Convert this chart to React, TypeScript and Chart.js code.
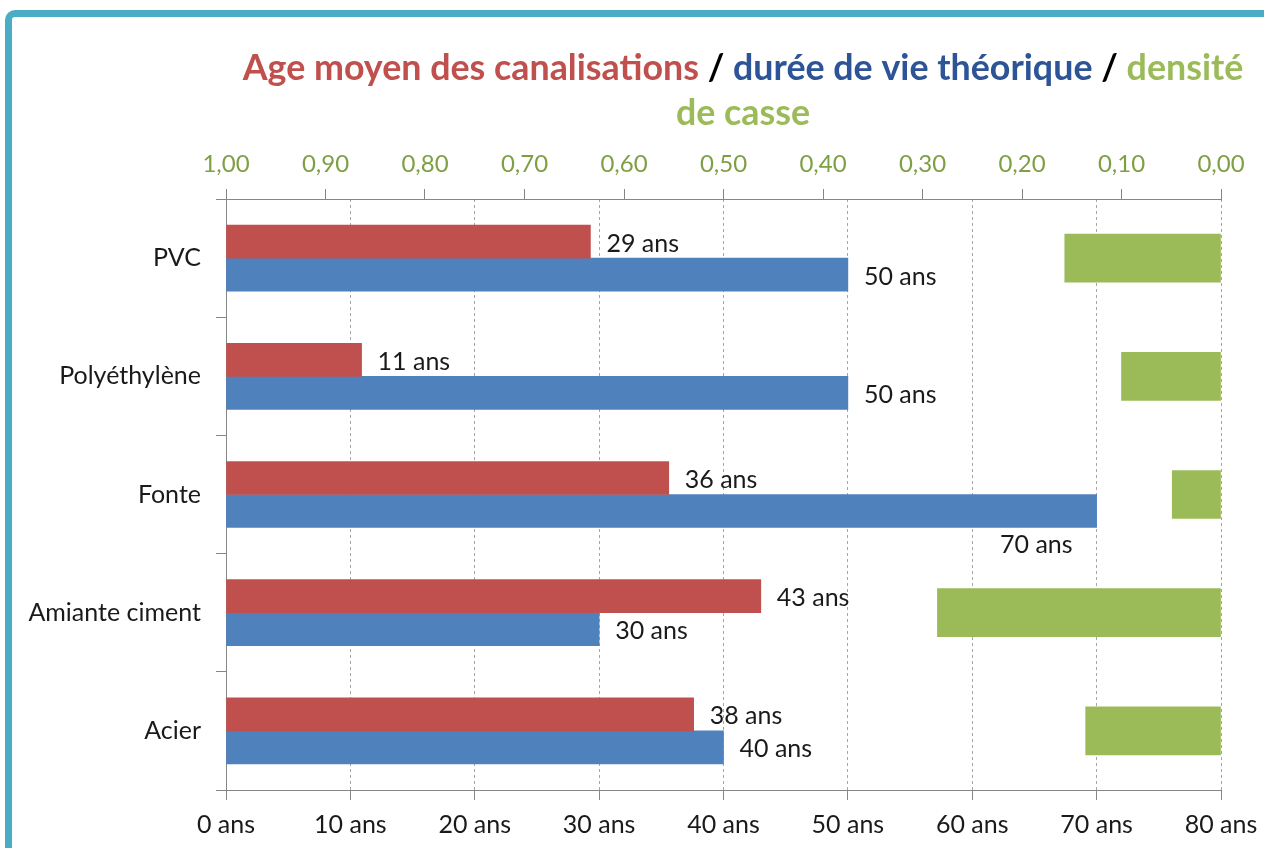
import React, { useEffect, useRef } from 'react';
import Chart from 'chart.js/auto';

const categories = ['PVC', 'Polyéthylène', 'Fonte', 'Amiante ciment', 'Acier'];
const ageMoyen = [29.3, 10.9, 35.6, 43.0, 37.6];
const dureeVie = [50, 50, 70, 30, 40];
const densiteCasse = [0.157, 0.1, 0.049, 0.285, 0.136];
const ageUnit = ' ans';

const titleLine1 = [
  { text: 'Age moyen des canalisations', color: '#C0504D' },
  { text: ' / ', color: '#000000' },
  { text: 'durée de vie théorique', color: '#2C5496' },
  { text: ' / ', color: '#000000' },
  { text: 'densité', color: '#9BBB59' },
];
const titleLine2 = [{ text: 'de casse', color: '#9BBB59' }];

const FONT = 'Lato';
const TEXT = '#1a1a1a';
const AXIS = '#868686';

const titlePlugin = {
  id: 'multiTitle',
  afterDraw(chart: any) {
    const ctx = chart.ctx;
    ctx.save();
    ctx.font = `bold 35.8px ${FONT}`;
    ctx.textBaseline = 'middle';
    ctx.textAlign = 'left';
    const drawLine = (segs: { text: string; color: string }[], cx: number, cy: number) => {
      const total = segs.reduce((s, g) => s + ctx.measureText(g.text).width, 0);
      let x = cx - total / 2;
      segs.forEach((g) => {
        ctx.fillStyle = g.color;
        ctx.fillText(g.text, x, cy);
        x += ctx.measureText(g.text).width;
      });
    };
    drawLine(titleLine1, 743, 68);
    drawLine(titleLine2, 743, 113);
    ctx.restore();
  },
};

const valueLabels = {
  id: 'valueLabels',
  afterDatasetsDraw(chart: any) {
    const ctx = chart.ctx;
    ctx.save();
    ctx.font = `25px ${FONT}`;
    ctx.fillStyle = TEXT;
    ctx.textBaseline = 'middle';
    const greenMeta = chart.getDatasetMeta(2);
    [0, 1].forEach((di) => {
      const meta = chart.getDatasetMeta(di);
      meta.data.forEach((el: any, i: number) => {
        const v = chart.data.datasets[di].data[i] as number;
        const txt = Math.round(v) + ageUnit;
        const w = ctx.measureText(txt).width;
        const greenLeft = greenMeta.data[i] ? greenMeta.data[i].x : Infinity;
        const x = el.x + 16;
        if (x + w + 10 > greenLeft) {
          ctx.textAlign = 'right';
          ctx.fillText(txt, el.x - 24, el.y + el.height / 2 + 17);
        } else {
          ctx.textAlign = 'left';
          ctx.fillText(txt, x, el.y + 2);
        }
      });
    });
    ctx.restore();
  },
};

export default function App() {
  const ref = useRef<HTMLCanvasElement | null>(null);
  useEffect(() => {
    if (!ref.current) return;
    const chart = new Chart(ref.current, {
      type: 'bar',
      data: {
        labels: categories,
        datasets: [
          { label: 'Age moyen des canalisations', data: ageMoyen, backgroundColor: '#C0504D', xAxisID: 'x', yAxisID: 'y', barThickness: 33 } as any,
          { label: 'Durée de vie théorique', data: dureeVie, backgroundColor: '#4F81BD', xAxisID: 'x', yAxisID: 'y', barThickness: 33 } as any,
          { label: 'Densité de casse', data: densiteCasse, backgroundColor: '#9BBB59', xAxisID: 'x2', yAxisID: 'y', barThickness: 48, grouped: false } as any,
        ],
      },
      options: {
        indexAxis: 'y',
        responsive: false,
        animation: false,
        layout: { padding: { left: 0, right: 43, top: 139, bottom: 0 } },
        plugins: { legend: { display: false }, tooltip: { enabled: false }, title: { display: false } },
        scales: {
          x: {
            type: 'linear', position: 'bottom', min: 0, max: 80,
            ticks: { stepSize: 10, callback: (v: any) => v + ageUnit, font: { family: FONT, size: 25 }, color: TEXT, padding: 10, maxRotation: 0, autoSkip: false },
            grid: { color: '#A6A6A6', lineWidth: 1, drawTicks: true, tickLength: 10, tickColor: AXIS },
            border: { display: true, color: AXIS, width: 1, dash: [3, 3] },
            afterFit: (s: any) => { s.height = 58; s.paddingLeft = 0; s.paddingRight = 0; },
          },
          x2: {
            type: 'linear', position: 'top', min: 0, max: 1, reverse: true,
            ticks: { stepSize: 0.1, callback: (v: any) => Number(v).toFixed(2).replace('.', ','), font: { family: FONT, size: 24 }, color: '#7F9F45', padding: 10, maxRotation: 0, autoSkip: false },
            grid: { drawOnChartArea: false, drawTicks: true, tickLength: 10, tickColor: AXIS },
            border: { display: true, color: AXIS, width: 1 },
            afterFit: (s: any) => { s.height = 60; s.paddingLeft = 0; s.paddingRight = 0; },
          },
          y: {
            type: 'category', position: 'left', offset: true,
            ticks: { font: { family: FONT, size: 25 }, color: TEXT, padding: 15 },
            grid: { offset: true, drawOnChartArea: false, drawTicks: true, tickLength: 10, tickColor: AXIS },
            border: { display: true, color: AXIS, width: 1 },
            afterFit: (s: any) => { s.width = 226; },
          },
        },
      } as any,
      plugins: [titlePlugin, valueLabels],
    });
    return () => chart.destroy();
  }, []);

  return (
    <div style={{ position: 'fixed', left: 0, top: 0, width: 1264, height: 848, overflow: 'hidden', background: '#fff' }}>
      <div style={{ position: 'absolute', left: 5, top: 10, width: 1400, height: 1000, border: '7px solid #4BACC6', borderRadius: 10, boxSizing: 'border-box' }} />
      <canvas ref={ref} width={1264} height={848} style={{ position: 'absolute', left: 0, top: 0, width: 1264, height: 848 }} />
    </div>
  );
}
